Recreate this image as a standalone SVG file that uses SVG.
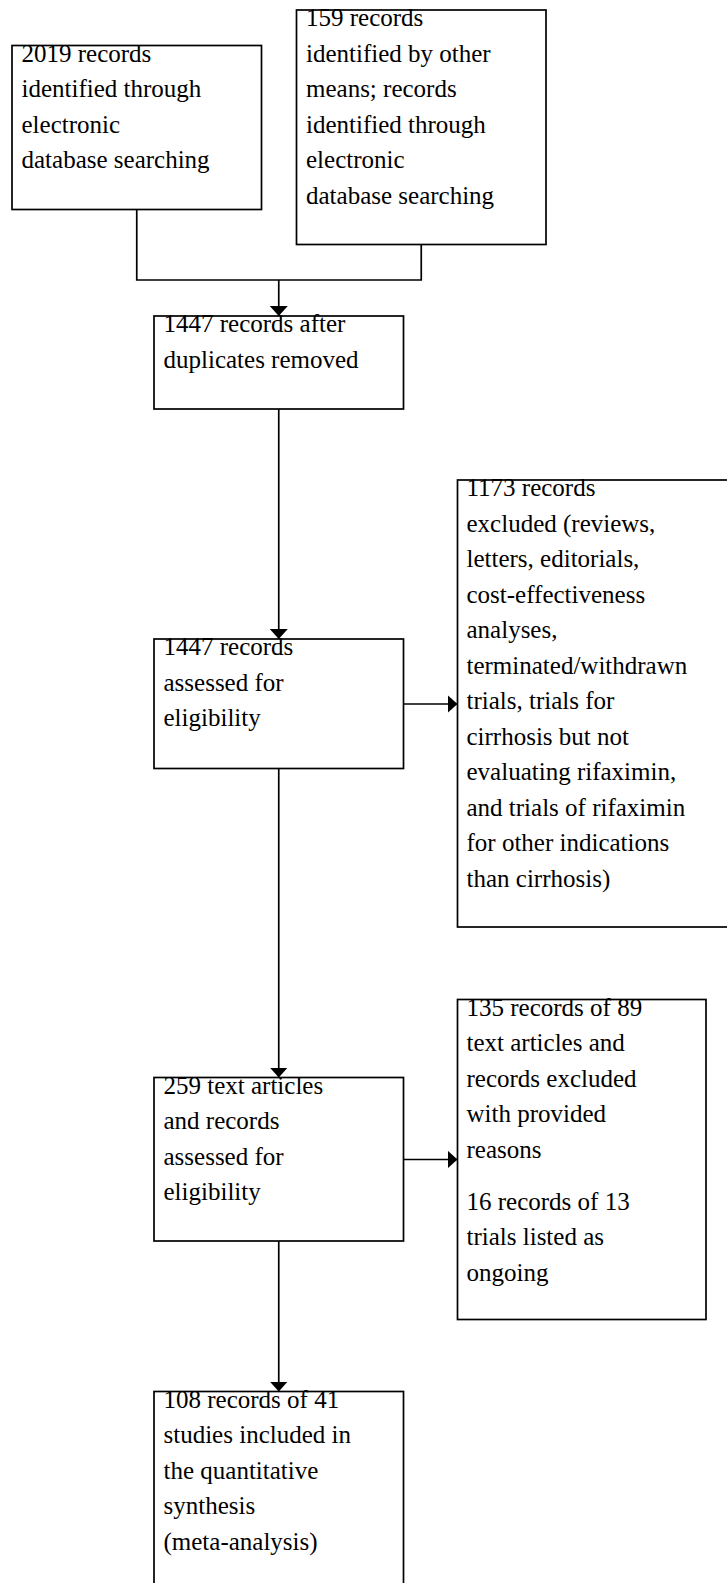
<svg xmlns="http://www.w3.org/2000/svg" width="727" height="1583" viewBox="0 0 727 1583">
<style>
  .box { fill: #ffffff; stroke: #000000; stroke-width: 1.7; }
  .lbl { font-family: "Liberation Serif", "Times New Roman", serif; font-size: 25px; fill: #000000; }
  .conn { fill: none; stroke: #000000; stroke-width: 1.7; }
</style>
<defs>
  <marker id="arr" markerUnits="userSpaceOnUse" markerWidth="12" markerHeight="20" refX="10" refY="9" orient="auto">
    <path d="M0,0 L10,9 L0,18 Z" fill="#000000"/>
  </marker>
</defs>
<rect width="727" height="1583" fill="#ffffff"/>
<g id="connectors">
  <path class="conn" d="M136.75,209.5 V280 H421.25 V244.5"/>
  <path class="conn" d="M278.75,280 V316" marker-end="url(#arr)"/>
  <path class="conn" d="M278.75,409 V639" marker-end="url(#arr)"/>
  <path class="conn" d="M403.5,704 H457.5" marker-end="url(#arr)"/>
  <path class="conn" d="M278.75,768.5 V1077.5" marker-end="url(#arr)"/>
  <path class="conn" d="M403.5,1159.5 H457.5" marker-end="url(#arr)"/>
  <path class="conn" d="M278.75,1241 V1391.5" marker-end="url(#arr)"/>
</g>
<g id="node-a">
  <rect class="box" x="12" y="45.5" width="249.5" height="164"/>
  <text class="lbl"><tspan x="21.5" y="61.7">2019 records</tspan><tspan x="21.5" y="97.2">identified through</tspan><tspan x="21.5" y="132.7">electronic</tspan><tspan x="21.5" y="168.2">database searching</tspan></text>
</g>
<g id="node-b">
  <rect class="box" x="296.5" y="10" width="249.5" height="234.5"/>
  <text class="lbl"><tspan x="306" y="26">159 records</tspan><tspan x="306" y="61.5">identified by other</tspan><tspan x="306" y="97">means; records</tspan><tspan x="306" y="132.5">identified through</tspan><tspan x="306" y="168">electronic</tspan><tspan x="306" y="203.5">database searching</tspan></text>
</g>
<g id="node-c">
  <rect class="box" x="154" y="316" width="249.5" height="93"/>
  <text class="lbl"><tspan x="163.5" y="332">1447 records after</tspan><tspan x="163.5" y="367.5">duplicates removed</tspan></text>
</g>
<g id="node-d">
  <rect class="box" x="154" y="639" width="249.5" height="129.5"/>
  <text class="lbl"><tspan x="163.5" y="655">1447 records</tspan><tspan x="163.5" y="690.5">assessed for</tspan><tspan x="163.5" y="726">eligibility</tspan></text>
</g>
<g id="node-e">
  <rect class="box" x="457.5" y="480" width="280" height="447"/>
  <text class="lbl"><tspan x="466.5" y="496">1173 records</tspan><tspan x="466.5" y="531.5">excluded (reviews,</tspan><tspan x="466.5" y="567">letters, editorials,</tspan><tspan x="466.5" y="602.5">cost-effectiveness</tspan><tspan x="466.5" y="638">analyses,</tspan><tspan x="466.5" y="673.5">terminated/withdrawn</tspan><tspan x="466.5" y="709">trials, trials for</tspan><tspan x="466.5" y="744.5">cirrhosis but not</tspan><tspan x="466.5" y="780">evaluating rifaximin,</tspan><tspan x="466.5" y="815.5">and trials of rifaximin</tspan><tspan x="466.5" y="851">for other indications</tspan><tspan x="466.5" y="886.5">than cirrhosis)</tspan></text>
</g>
<g id="node-f">
  <rect class="box" x="154" y="1077.5" width="249.5" height="163.5"/>
  <text class="lbl"><tspan x="163.5" y="1093.5">259 text articles</tspan><tspan x="163.5" y="1129">and records</tspan><tspan x="163.5" y="1164.5">assessed for</tspan><tspan x="163.5" y="1200">eligibility</tspan></text>
</g>
<g id="node-g">
  <rect class="box" x="457.5" y="999.5" width="248.5" height="320"/>
  <text class="lbl"><tspan x="466.5" y="1015.5">135 records of 89</tspan><tspan x="466.5" y="1051">text articles and</tspan><tspan x="466.5" y="1086.5">records excluded</tspan><tspan x="466.5" y="1122">with provided</tspan><tspan x="466.5" y="1157.5">reasons</tspan><tspan x="466.5" y="1209.5">16 records of 13</tspan><tspan x="466.5" y="1245">trials listed as</tspan><tspan x="466.5" y="1280.5">ongoing</tspan></text>
</g>
<g id="node-h">
  <rect class="box" x="154" y="1391.5" width="249.5" height="220"/>
  <text class="lbl"><tspan x="163.5" y="1407.5">108 records of 41</tspan><tspan x="163.5" y="1443">studies included in</tspan><tspan x="163.5" y="1478.5">the quantitative</tspan><tspan x="163.5" y="1514">synthesis</tspan><tspan x="163.5" y="1549.5">(meta-analysis)</tspan></text>
</g>
</svg>
